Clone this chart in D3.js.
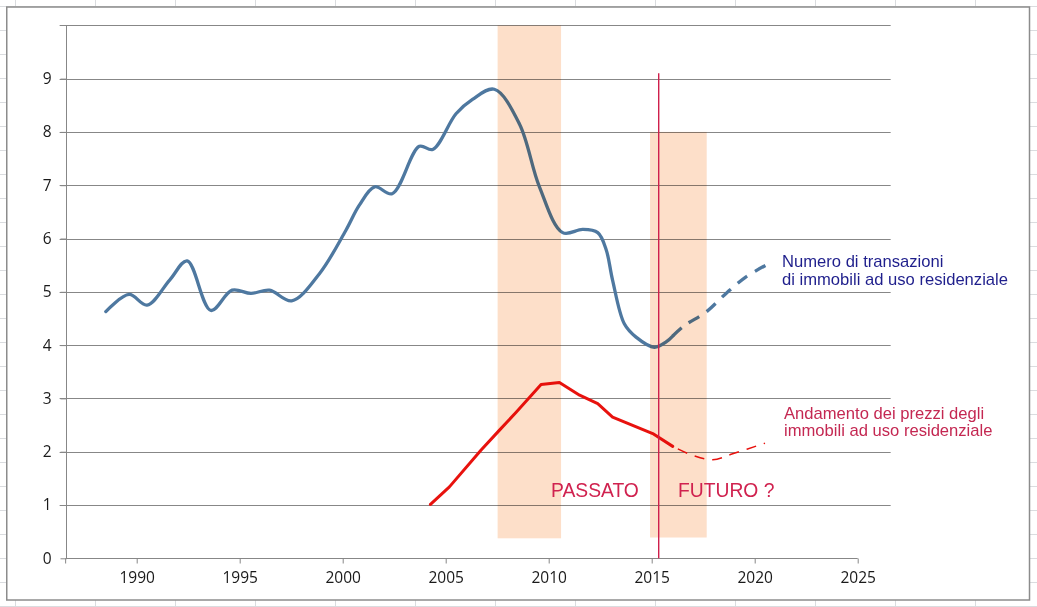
<!DOCTYPE html>
<html>
<head>
<meta charset="utf-8">
<script src="https://cdn.jsdelivr.net/npm/d3@7"></script>
<style>
  html, body { margin: 0; padding: 0; background: #fff; }
  svg { display: block; }
</style>
</head>
<body>
<svg id="chart" width="1037" height="607"></svg>
<script>
// ---------- DATA ----------
const xTickLabels = [1990, 1995, 2000, 2005, 2010, 2015, 2020, 2025];
const yTickLabels = [0, 1, 2, 3, 4, 5, 6, 7, 8, 9];
const yGridValues = [1, 2, 3, 4, 5, 6, 7, 8, 9, 10];

// Numero di transazioni (solid, past)
const transYears = [1988.5, 1989.63, 1990.5, 1991.6, 1992.45, 1993.6, 1994.63, 1995.55, 1996.45, 1997.52, 1998.87, 2000.15, 2000.8, 2001.55, 2002.4, 2003.72, 2004.37, 2005.5, 2006.3, 2007.36, 2008.58, 2009.55, 2010.68, 2011.65, 2012.38, 2012.79, 2013.1, 2013.67, 2014.24, 2015.13, 2015.7, 2016.02];
const transValues = [4.63, 4.95, 4.75, 5.22, 5.58, 4.65, 5.03, 4.97, 5.03, 4.83, 5.34, 6.15, 6.62, 6.97, 6.84, 7.73, 7.67, 8.34, 8.61, 8.80, 8.15, 6.97, 6.11, 6.17, 6.11, 5.79, 5.22, 4.40, 4.15, 3.96, 4.06, 4.17];
// Numero di transazioni (dashed, future)
const transFutureYears = [2016.02, 2016.6, 2017.64, 2018.61, 2019.58, 2020.55];
const transFutureValues = [4.17, 4.37, 4.62, 4.97, 5.28, 5.50];

// Andamento dei prezzi (solid, past)
const priceYears = [2004.26, 2005.18, 2006.72, 2007.6, 2008.42, 2009.63, 2010.52, 2011.5, 2012.38, 2013.1, 2015.05, 2016.02];
const priceValues = [1.01, 1.34, 2.03, 2.40, 2.74, 3.26, 3.30, 3.06, 2.90, 2.65, 2.34, 2.10];
// Andamento dei prezzi (dashed, future)
const priceFutureYears = [2016.02, 2017.0, 2017.96, 2018.93, 2020.5];
const priceFutureValues = [2.10, 1.93, 1.85, 1.96, 2.16];

// Shaded periods
const bandStart = [2007.52, 2014.92];
const bandEnd = [2010.6, 2017.67];
const bandLow = [0.375, 0.39];
const bandHigh = [10, 8];

// "Today" marker
const todayYear = 2015.34;
const todayTop = 9.1;

const xAxisMin = 1986.55;
const xGridMax = 2026.6;

// ---------- DRAW ----------
const W = 1037, H = 607;
const svg = d3.select("#chart");

// spreadsheet background
const sheet = svg.append("g");
sheet.append("rect").attr("width", W).attr("height", H).attr("fill", "#ffffff");
d3.range(15.5, W, 80).forEach(x => sheet.append("line")
  .attr("x1", x).attr("x2", x).attr("y1", 0).attr("y2", H)
  .attr("stroke", "#dadcdf").attr("stroke-width", 1));
d3.range(6.5, H, 24).forEach(y => sheet.append("line")
  .attr("x1", 0).attr("x2", W).attr("y1", y).attr("y2", y)
  .attr("stroke", "#dadcdf").attr("stroke-width", 1));

// chart area
svg.append("rect")
  .attr("x", 6.75).attr("y", 7).attr("width", 1022.75).attr("height", 593)
  .attr("fill", "#ffffff").attr("stroke", "#8c8c8c").attr("stroke-width", 1.5);

const x = d3.scaleLinear().domain([1990, 2025]).range([136.7, 857.7]);
const y = d3.scaleLinear().domain([0, 10]).range([558.3, 25.3]);

// gridlines
const grid = svg.append("g");
yGridValues.forEach(v => grid.append("line")
  .attr("x1", x(xAxisMin) - 6).attr("x2", x(xGridMax))
  .attr("y1", Math.round(y(v)) + 0.5).attr("y2", Math.round(y(v)) + 0.5)
  .attr("stroke", "#878787").attr("stroke-width", 1));

// y axis
const yAxis = d3.axisLeft(y).tickValues(yTickLabels).tickSize(6).tickSizeOuter(0).tickPadding(9);
const gy = svg.append("g").attr("transform", `translate(${Math.round(x(xAxisMin)) + 0.5},0)`).call(yAxis);
gy.select(".domain").attr("stroke", "#878787").attr("d", `M0,${y(10)}V${y(0)}`);
gy.selectAll(".tick line").attr("stroke", "#878787");
gy.selectAll(".tick text").attr("fill", "#1a1a1a")
  .style("font-family", "'Open Sans', 'Liberation Sans', sans-serif").style("font-size", "15.5px");

// x axis
const xAxis = d3.axisBottom(x).tickValues(xTickLabels).tickFormat(d3.format("d"))
  .tickSize(5).tickSizeOuter(0).tickPadding(8);
const gx = svg.append("g").attr("transform", `translate(0,${Math.round(y(0)) + 0.5})`).call(xAxis);
gx.select(".domain").attr("stroke", "#878787")
  .attr("d", `M${x(xAxisMin)},5V0H${x(2025)}`);
gx.selectAll(".tick line").attr("stroke", "#878787");
gx.selectAll(".tick text").attr("fill", "#1a1a1a")
  .style("font-family", "'Open Sans', 'Liberation Sans', sans-serif").style("font-size", "15.5px");

// lines
const zip = (xs, ys) => xs.map((d, i) => [d, ys[i]]);
const smooth = d3.line().x(d => x(d[0])).y(d => y(d[1])).curve(d3.curveCatmullRom.alpha(0.5));
const straight = d3.line().x(d => x(d[0])).y(d => y(d[1])).curve(d3.curveLinear);

const blue = "#4e78a0";
const red = "#e8120e";

svg.append("path").attr("d", smooth(zip(transYears, transValues)))
  .attr("fill", "none").attr("stroke", blue).attr("stroke-width", 3.3)
  .attr("stroke-linecap", "round").attr("stroke-linejoin", "round");
svg.append("path").attr("d", smooth(zip(transFutureYears, transFutureValues)))
  .attr("fill", "none").attr("stroke", blue).attr("stroke-width", 3.3)
  .attr("stroke-dasharray", "12,9").attr("stroke-dashoffset", 21);

svg.append("path").attr("d", straight(zip(priceYears, priceValues)))
  .attr("fill", "none").attr("stroke", red).attr("stroke-width", 3)
  .attr("stroke-linecap", "round").attr("stroke-linejoin", "round");
svg.append("path").attr("d", smooth(zip(priceFutureYears, priceFutureValues)))
  .attr("fill", "none").attr("stroke", red).attr("stroke-width", 1.5)
  .attr("stroke-dasharray", "10,8").attr("stroke-dashoffset", 12);

// shaded bands (multiply over the lines)
bandStart.forEach((s, i) => svg.append("rect")
  .attr("x", x(s)).attr("width", x(bandEnd[i]) - x(s))
  .attr("y", y(bandHigh[i])).attr("height", y(bandLow[i]) - y(bandHigh[i]))
  .attr("fill", "#fddfc9").style("mix-blend-mode", "multiply"));

// today marker
svg.append("line")
  .attr("x1", x(todayYear)).attr("x2", x(todayYear))
  .attr("y1", y(todayTop)).attr("y2", y(0))
  .attr("stroke", "#cf1f4c").attr("stroke-width", 1.4);

// annotations
const font = "'Liberation Sans', Arial, sans-serif";
const ann = svg.append("g").style("font-family", font);
ann.append("text").attr("x", 782).attr("y", 267).attr("fill", "#1f1f8c").style("font-size", "16.6px")
  .text("Numero di transazioni");
ann.append("text").attr("x", 782).attr("y", 285).attr("fill", "#1f1f8c").style("font-size", "16.6px")
  .text("di immobili ad uso residenziale");
ann.append("text").attr("x", 784).attr("y", 419).attr("fill", "#c42852").style("font-size", "16.6px")
  .text("Andamento dei prezzi degli");
ann.append("text").attr("x", 784).attr("y", 436).attr("fill", "#c42852").style("font-size", "16.6px")
  .text("immobili ad uso residenziale");
ann.append("text").attr("x", 551).attr("y", 497).attr("fill", "#d0224f").style("font-size", "19.3px")
  .text("PASSATO");
ann.append("text").attr("x", 678).attr("y", 497).attr("fill", "#d0224f").style("font-size", "19.3px")
  .text("FUTURO ?");
</script>
</body>
</html>
